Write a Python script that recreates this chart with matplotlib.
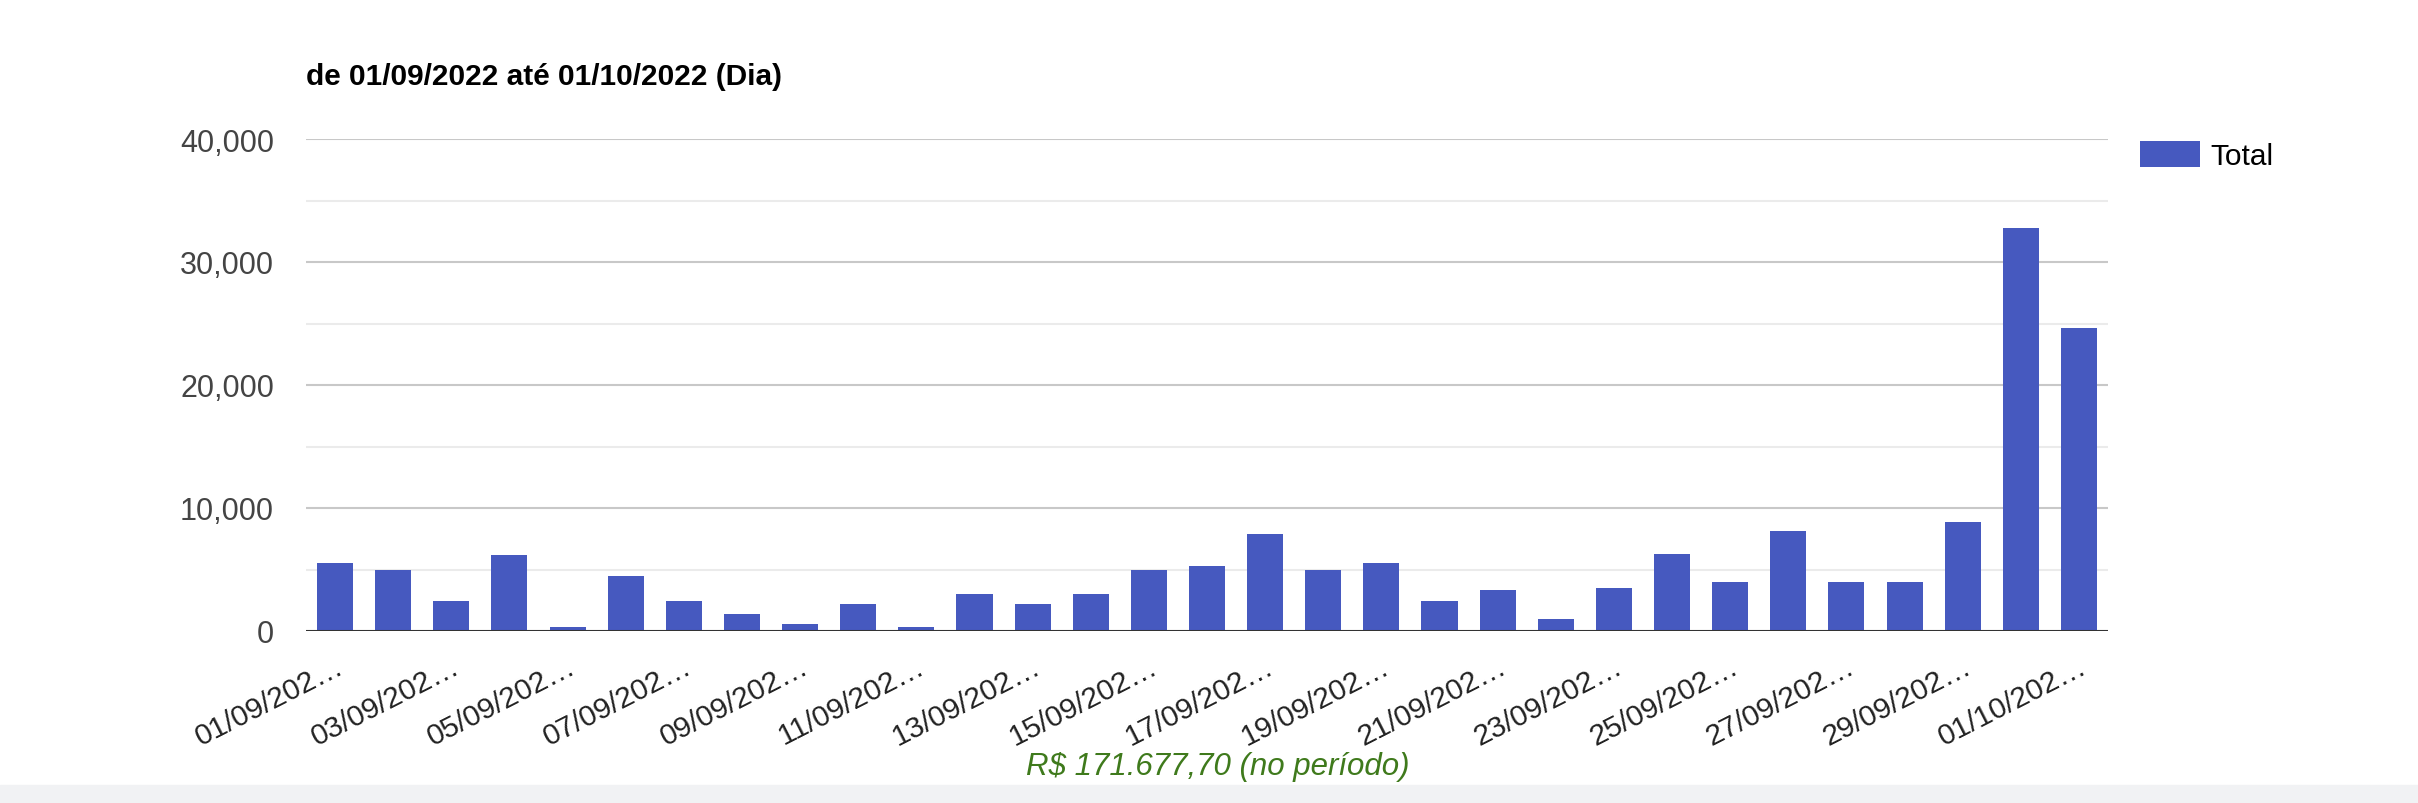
"""Daily totals bar chart, 01/09/2022 to 01/10/2022."""

import matplotlib
matplotlib.use("Agg")
import matplotlib.pyplot as plt
from matplotlib.patches import Rectangle
from matplotlib.ticker import FuncFormatter, MultipleLocator

plt.rcParams["font.family"] = ["Liberation Sans", "DejaVu Sans"]

days = [
    "01/09", "02/09", "03/09", "04/09", "05/09", "06/09", "07/09", "08/09",
    "09/09", "10/09", "11/09", "12/09", "13/09", "14/09", "15/09", "16/09",
    "17/09", "18/09", "19/09", "20/09", "21/09", "22/09", "23/09", "24/09",
    "25/09", "26/09", "27/09", "28/09", "29/09", "30/09", "01/10",
]
totals = [
    5500, 5000, 2400, 6200, 300, 4500, 2400, 1400,
    600, 2200, 300, 3000, 2200, 3000, 5000, 5300,
    7900, 5000, 5500, 2400, 3300, 1000, 3500, 6300,
    4000, 8100, 4000, 4000, 8900, 32800, 24600,
]
tick_labels = [d + "/202\u2026" for d in days]

title = "de 01/09/2022 até 01/10/2022 (Dia)"
period_total = "R$ 171.677,70 (no período)"
bar_color = "#4659bf"

fig = plt.figure(figsize=(24.18, 8.04), dpi=100)
ax = fig.add_axes([306 / 2418, 172 / 804, 1802 / 2418, 492 / 804])

x = list(range(len(days)))
ax.bar(x, totals, width=0.62, color=bar_color, label="Total", zorder=3)

ax.set_xlim(-0.5, len(days) - 0.5)
ax.set_ylim(0, 40000)
ax.yaxis.set_major_locator(MultipleLocator(10000))
ax.yaxis.set_minor_locator(MultipleLocator(5000))
ax.yaxis.set_major_formatter(FuncFormatter(lambda v, p: f"{int(v):,}"))
ax.grid(axis="y", which="major", color="#c8c8c8", linewidth=1.5, zorder=1)
ax.grid(axis="y", which="minor", color="#ebebeb", linewidth=1.5, zorder=1)
ax.axhline(0, color="#333333", linewidth=2.2, zorder=4)
for s in ax.spines.values():
    s.set_visible(False)

ax.tick_params(axis="y", which="both", length=0, pad=23, labelsize=22, labelcolor="#444444")
ax.set_xticks(x[::2])
ax.set_xticklabels(tick_labels[::2], rotation=27, ha="right", rotation_mode="anchor",
                   fontsize=21.5, color="#222222")
ax.tick_params(axis="x", length=0, pad=15)

ax.legend(loc="upper left", bbox_to_anchor=((2140 - 306) / 1802, 0.996), frameon=False,
          borderpad=0, borderaxespad=0, fontsize=21.5, handlelength=2.0,
          handleheight=0.95, handletextpad=0.37)

fig.text(306 / 2418, 1 - 77 / 804, title, fontsize=21.5, fontweight="bold", va="center")
fig.text(1218 / 2418, 1 - 767 / 804, period_total, fontsize=22.5, style="italic",
         color="#3f7a1c", ha="center", va="center")
fig.patches.append(Rectangle((0, 0), 1, 18 / 804, transform=fig.transFigure,
                             color="#f1f2f4", zorder=0))

fig.savefig("out.png", dpi=100)
plt.close(fig)
